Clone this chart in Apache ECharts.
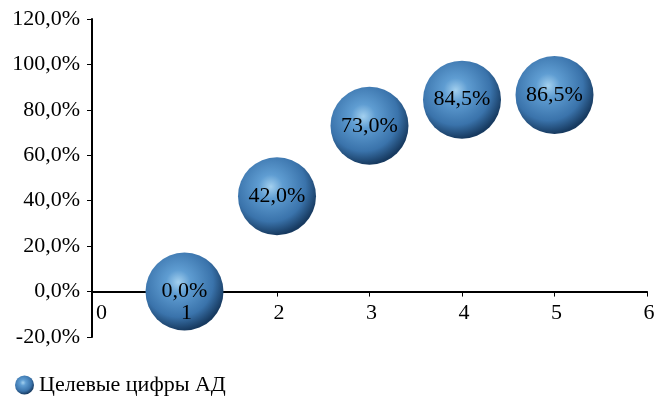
<!DOCTYPE html>
<html><head><meta charset="utf-8">
<script src="https://cdn.jsdelivr.net/npm/echarts@6/dist/echarts.min.js"></script>
<style>html,body{margin:0;padding:0;background:#fff}#c{width:664px;height:399px}</style>
</head><body><div id="c"></div>
<script>
const seriesName = 'Целевые цифры АД';
const xValues = [1, 2, 3, 4, 5];
const yValues = [0.0, 42.0, 73.0, 84.5, 86.5];
const labelTexts = ['0,0%', '42,0%', '73,0%', '84,5%', '86,5%'];

const font = 'Liberation Serif, Times New Roman, serif';
const ballColor = {
  type: 'radial', x: 0.42, y: 0.38, r: 0.62,
  colorStops: [
    {offset: 0, color: '#a3d0ef'},
    {offset: 0.25, color: '#5f9dd2'},
    {offset: 0.72, color: '#3a73ab'},
    {offset: 1, color: '#173a60'}
  ]
};
const chart = echarts.init(document.getElementById('c'), null, {renderer: 'canvas'});
chart.setOption({
  animation: false,
  grid: {left: 92, right: 17, top: 19, bottom: 62},
  legend: {
    left: 10, bottom: -2, itemWidth: 19, itemHeight: 19, itemGap: 6,
    textStyle: {fontFamily: font, fontSize: 22, color: '#000'},
    data: [{name: seriesName, icon: 'circle'}]
  },
  xAxis: [{
    type: 'value', min: 0, max: 6, interval: 1,
    axisLine: {show: true, onZero: true, lineStyle: {color: '#000', width: 2}},
    axisTick: {show: true, inside: false, length: 5, lineStyle: {color: '#000', width: 1}},
    splitLine: {show: false},
    axisLabel: {show: false}
  }, {
    type: 'value', min: 0, max: 6, interval: 1, position: 'bottom', offset: -45.4, z: 20,
    axisLine: {show: false, onZero: false},
    axisTick: {show: false},
    splitLine: {show: false},
    axisLabel: {fontFamily: font, fontSize: 22, color: '#000', margin: 11, alignMinLabel: 'left', padding:[0,0,0,4],
      formatter: v => String(v)}
  }],
  yAxis: {
    type: 'value', min: -20, max: 120, interval: 20,
    axisLine: {show: true, onZero: false, lineStyle: {color: '#000', width: 2}},
    axisTick: {show: true, inside: false, length: 5, lineStyle: {color: '#000', width: 1}},
    splitLine: {show: false},
    axisLabel: {fontFamily: font, fontSize: 22, color: '#000', margin: 12,
      formatter: v => v.toFixed(1).replace('.', ',') + '%'}
  },
  series: [{
    name: seriesName, type: 'scatter', xAxisIndex: 0,
    data: xValues.map((x, i) => [x, yValues[i]]),
    symbolSize: 78,
    itemStyle: {color: ballColor, opacity: 1},
    label: {show: true, position: 'inside', fontFamily: font, fontSize: 22, color: '#000',
      formatter: p => labelTexts[p.dataIndex]},
    z: 5
  }]
});
</script></body></html>
